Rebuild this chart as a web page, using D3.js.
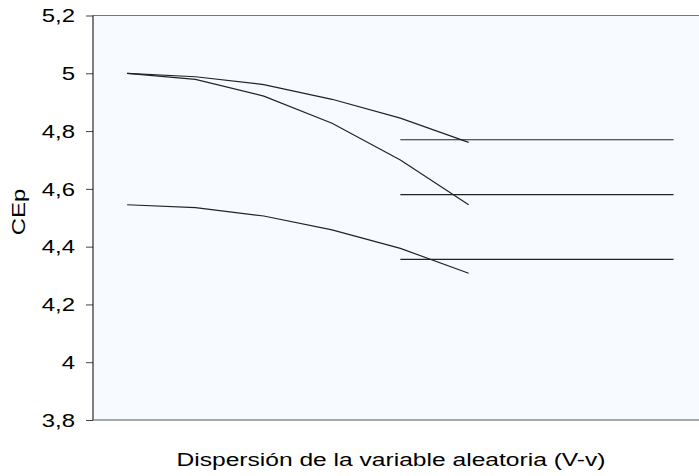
<!DOCTYPE html>
<html lang="en">
<head>
    <meta charset="UTF-8">
    <title>CEp</title>
    <script src="https://d3js.org/d3.v7.min.js"></script>
    <style>
        body { margin: 0; background: #fff; }
        text { font-family: "Liberation Sans", Arial, sans-serif; fill: #000; }
    </style>
</head>
<body>
<svg width="699" height="476"></svg>
<script>
    // categories along the x axis (not labelled in the original)
    var categories = ["1", "2", "3", "4", "5", "6", "7", "8", "9"];
    var yTicks = [3.8, 4, 4.2, 4.4, 4.6, 4.8, 5, 5.2];

    // decreasing curves
    var serieA = [5.0, 4.988, 4.961, 4.910, 4.845, 4.761];
    var serieB = [5.0, 4.979, 4.921, 4.827, 4.700, 4.545];
    var serieC = [4.545, 4.535, 4.506, 4.458, 4.394, 4.308];

    // flat levels, drawn from category 5 to 9
    var levels = [4.770, 4.580, 4.356];
    var levelFrom = 4, levelTo = 8;

    var svg = d3.select("svg");
    var plotLeft = 93, plotTop = 15.5, plotBottom = 420, step = 68.3;
    var stretch = 1.33; // text in the original is drawn wider than normal

    var x = d3.scaleBand().domain(categories).range([plotLeft, plotLeft + step * categories.length]);
    var y = d3.scaleLinear().domain([3.8, 5.2]).range([plotBottom, plotTop]);
    var cx = function (i) { return x(categories[i]) + x.bandwidth() / 2; };

    svg.append("rect")
        .attr("x", plotLeft).attr("y", plotTop)
        .attr("width", step * categories.length).attr("height", plotBottom - plotTop)
        .attr("fill", "#f7fbff");

    // top border
    svg.append("line")
        .attr("x1", plotLeft).attr("x2", 699)
        .attr("y1", plotTop).attr("y2", plotTop)
        .attr("stroke", "#777").attr("stroke-width", 1);

    var yAxis = svg.append("g")
        .attr("transform", "translate(" + plotLeft + ",0)")
        .call(d3.axisLeft(y).tickValues(yTicks).tickSize(7)
            .tickFormat(function (d) { return d3.format("~g")(d).replace(".", ","); }));
    yAxis.select(".domain").remove();
    yAxis.selectAll(".tick line").attr("stroke", "#444");
    yAxis.selectAll("text")
        .attr("x", null).attr("dy", "0.35em")
        .attr("transform", "translate(-18,0) scale(" + stretch + ",1)")
        .attr("font-size", "18px")
        .attr("font-family", "Liberation Sans, Arial, sans-serif").attr("fill", "#000");

    svg.append("line")
        .attr("x1", plotLeft).attr("x2", plotLeft)
        .attr("y1", plotTop).attr("y2", plotBottom)
        .attr("stroke", "#000");
    svg.append("line")
        .attr("x1", plotLeft).attr("x2", 699)
        .attr("y1", plotBottom).attr("y2", plotBottom)
        .attr("stroke", "#555");

    var line = d3.line()
        .x(function (d, i) { return cx(i); })
        .y(function (d) { return y(d); });

    [serieA, serieB, serieC].forEach(function (s) {
        svg.append("path")
            .datum(s)
            .attr("d", line)
            .attr("fill", "none")
            .attr("stroke", "#222")
            .attr("stroke-width", 1.2);
    });

    levels.forEach(function (v) {
        svg.append("line")
            .attr("x1", cx(levelFrom)).attr("x2", cx(levelTo))
            .attr("y1", y(v)).attr("y2", y(v))
            .attr("stroke", "#222")
            .attr("stroke-width", 1.2);
    });

    svg.append("text")
        .attr("transform", "translate(391,466) scale(" + stretch + ",1)")
        .attr("text-anchor", "middle")
        .attr("font-size", "18.5px")
        .text("Dispersión de la variable aleatoria (V-v)");

    svg.append("text")
        .attr("transform", "translate(25,212) rotate(-90) scale(" + stretch + ",1)")
        .attr("text-anchor", "middle")
        .attr("font-size", "18px")
        .text("CEp");
</script>
</body>
</html>
